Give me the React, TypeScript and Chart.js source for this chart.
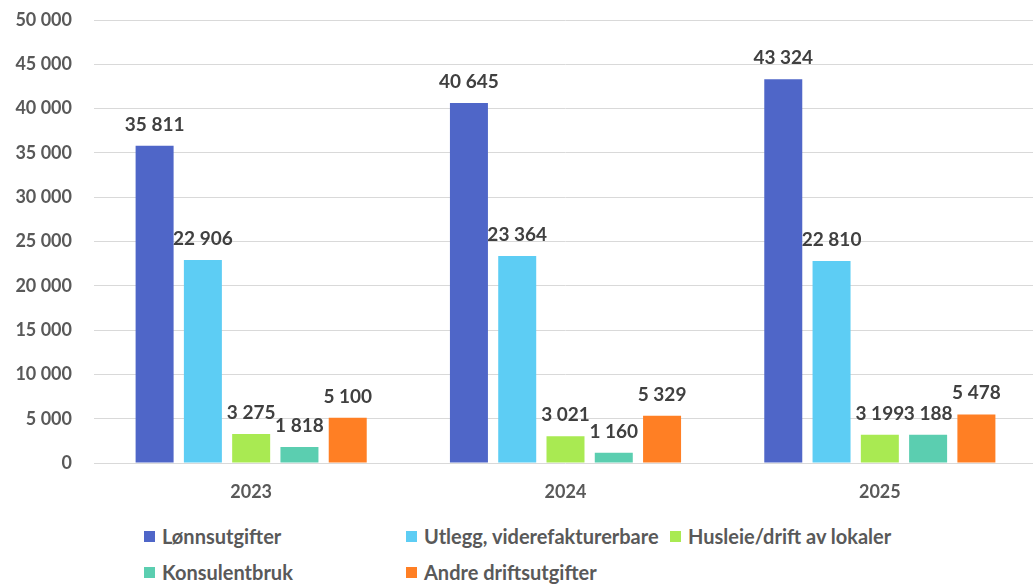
import React, { useEffect, useRef } from "react";
import { Chart, registerables } from "chart.js";

Chart.register(...registerables);

const categories = ["2023", "2024", "2025"];
const seriesNames = [
  "Lønnsutgifter",
  "Utlegg, viderefakturerbare",
  "Husleie/drift av lokaler",
  "Konsulentbruk",
  "Andre driftsutgifter",
];
const lonnsutgifter = [35811, 40645, 43324];
const utlegg = [22906, 23364, 22810];
const husleie = [3275, 3021, 3199];
const konsulent = [1818, 1160, 3188];
const andre = [5100, 5329, 5478];
const seriesColors = ["#4F66C8", "#5DCDF4", "#A9EA52", "#5BCEB0", "#FF7F24"];
const yMin = 0;
const yMax = 50000;
const yStep = 5000;

const FONT = "Lato, 'Noto Sans', sans-serif";

function fmt(v: number): string {
  return String(Math.round(v)).replace(/\B(?=(\d{3})+(?!\d))/g, " ");
}

const dataLabelPlugin = {
  id: "dataLabels",
  afterDatasetsDraw(chart: any) {
    const ctx = chart.ctx;
    ctx.save();
    ctx.font = `bold 19px ${FONT}`;
    ctx.fillStyle = "#404040";
    ctx.textAlign = "center";
    ctx.textBaseline = "alphabetic";
    chart.data.datasets.forEach((ds: any, i: number) => {
      const meta = chart.getDatasetMeta(i);
      meta.data.forEach((bar: any, j: number) => {
        ctx.fillText(fmt(ds.data[j]), bar.x, bar.y - 15);
      });
    });
    ctx.restore();
  },
};

export default function App() {
  const canvasRef = useRef<HTMLCanvasElement | null>(null);

  useEffect(() => {
    if (!canvasRef.current) return;
    const allSeries = [lonnsutgifter, utlegg, husleie, konsulent, andre];
    const chart = new Chart(canvasRef.current, {
      type: "bar",
      data: {
        labels: categories,
        datasets: allSeries.map((d, i) => ({
          label: seriesNames[i],
          data: d,
          backgroundColor: seriesColors[i],
          borderWidth: 0,
          categoryPercentage: 0.768,
          barPercentage: 0.787,
        })),
      },
      options: {
        responsive: false,
        animation: false,
        devicePixelRatio: 1,
        layout: { padding: { top: 20, right: 3, left: 0, bottom: 0 } },
        plugins: {
          legend: { display: false },
          tooltip: { enabled: false },
        },
        scales: {
          x: {
            grid: { display: false, drawTicks: false },
            border: { display: false },
            ticks: {
              color: "#595959",
              font: { family: FONT, size: 18, weight: "bold" },
              padding: 18,
            },
            afterFit: (s: any) => {
              s.height = 37;
            },
          },
          y: {
            min: yMin,
            max: yMax,
            grid: { color: "#D9D9D9", lineWidth: 1, drawTicks: false },
            border: { display: false },
            ticks: {
              stepSize: yStep,
              color: "#595959",
              font: { family: FONT, size: 18, weight: "bold" },
              padding: 22,
              callback: (v: any) => fmt(Number(v)),
            },
            afterFit: (s: any) => {
              s.width = 94;
              s.paddingTop = 0;
              s.paddingBottom = 0;
            },
          },
        },
      },
      plugins: [dataLabelPlugin],
    });
    return () => chart.destroy();
  }, []);

  const legendRows = [
    [0, 1, 2],
    [3, 4],
  ];

  return (
    <div
      style={{
        position: "fixed",
        left: 0,
        top: 0,
        width: "100vw",
        height: "100vh",
        overflow: "hidden",
        background: "#fff",
      }}
    >
      <canvas
        ref={canvasRef}
        width={1040}
        height={500}
        style={{ position: "absolute", left: 0, top: 0, width: 1040, height: 500 }}
      />
      <div
        style={{
          position: "absolute",
          left: 144,
          top: 518,
          display: "grid",
          gridTemplateColumns: "262px 264px auto",
          gridAutoRows: "36px",
          fontFamily: FONT,
          fontWeight: "bold",
          fontSize: 20,
          color: "#595959",
        }}
      >
        {legendRows.map((row, ri) =>
          row.map((idx, ci) => (
            <div
              key={`${ri}-${ci}`}
              style={{
                gridRow: ri + 1,
                gridColumn: ci + 1,
                display: "flex",
                alignItems: "center",
                whiteSpace: "nowrap",
              }}
            >
              <span
                style={{
                  display: "inline-block",
                  width: 11,
                  height: 11,
                  background: seriesColors[idx],
                  marginRight: 7,
                }}
              />
              <span>{seriesNames[idx]}</span>
            </div>
          ))
        )}
      </div>
    </div>
  );
}
